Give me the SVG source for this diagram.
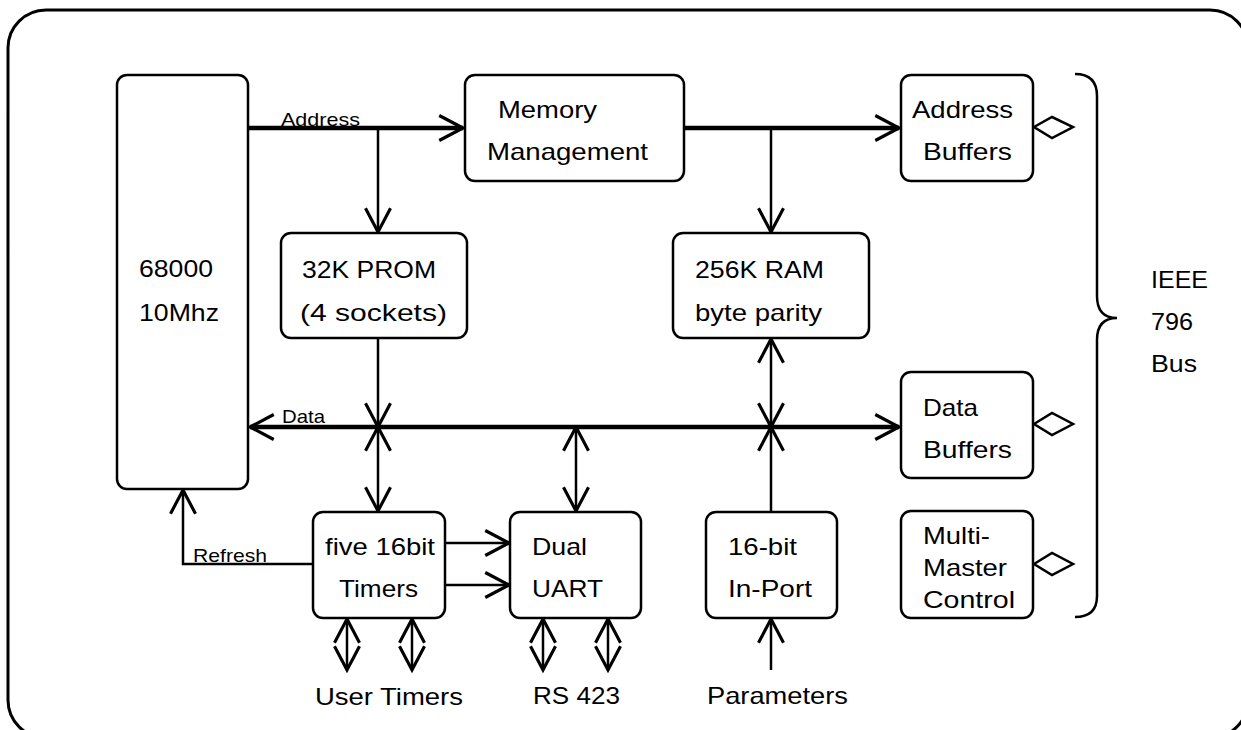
<svg xmlns="http://www.w3.org/2000/svg" width="1241" height="730" viewBox="0 0 1241 730">
<defs>
<marker id="ah" markerUnits="userSpaceOnUse" markerWidth="30" markerHeight="30" viewBox="-22 -12 24 24" refX="0" refY="0" orient="auto-start-reverse">
<path d="M-19,-10 L0,0 L-19,10" fill="none" stroke="#000" stroke-width="2.5"/>
</marker>
<style>
.box{fill:#fff;stroke:#000;stroke-width:2.5}
.t{font-family:"Liberation Sans",Arial,sans-serif;font-size:24px;fill:#000}
.s{font-family:"Liberation Sans",Arial,sans-serif;font-size:19px;fill:#000}
.thin{fill:none;stroke:#000;stroke-width:2.5}
.bus{fill:none;stroke:#000;stroke-width:4.5}
.dia{fill:#fff;stroke:#000;stroke-width:2.5}
</style>
</defs>
<rect width="1241" height="730" fill="#fff"/>
<rect x="8" y="10" width="1240" height="728" rx="38" fill="none" stroke="#000" stroke-width="3"/>

<g id="connectors">
<line class="bus" x1="248" y1="128" x2="463" y2="128" marker-end="url(#ah)"/>
<line class="thin" x1="378" y1="128" x2="378" y2="232" marker-end="url(#ah)"/>
<line class="bus" x1="684" y1="128" x2="899" y2="128" marker-end="url(#ah)"/>
<line class="thin" x1="771" y1="128" x2="771" y2="232" marker-end="url(#ah)"/>
<line class="bus" x1="250" y1="427" x2="899" y2="427" marker-start="url(#ah)" marker-end="url(#ah)"/>
<line class="thin" x1="378" y1="338" x2="378" y2="427" marker-end="url(#ah)"/>
<line class="thin" x1="378" y1="427" x2="378" y2="511" marker-start="url(#ah)" marker-end="url(#ah)"/>
<line class="thin" x1="576" y1="427" x2="576" y2="511" marker-start="url(#ah)" marker-end="url(#ah)"/>
<line class="thin" x1="771" y1="339" x2="771" y2="427" marker-start="url(#ah)" marker-end="url(#ah)"/>
<line class="thin" x1="771" y1="512" x2="771" y2="427" marker-end="url(#ah)"/>
<polyline class="thin" points="313,564 183,564 183,490" marker-end="url(#ah)"/>
<line class="thin" x1="445" y1="543" x2="509" y2="543" marker-end="url(#ah)"/>
<line class="thin" x1="445" y1="585" x2="509" y2="585" marker-end="url(#ah)"/>
<line class="thin" x1="347" y1="619" x2="347" y2="670" marker-start="url(#ah)" marker-end="url(#ah)"/>
<line class="thin" x1="412" y1="619" x2="412" y2="670" marker-start="url(#ah)" marker-end="url(#ah)"/>
<line class="thin" x1="543" y1="619" x2="543" y2="670" marker-start="url(#ah)" marker-end="url(#ah)"/>
<line class="thin" x1="608" y1="619" x2="608" y2="670" marker-start="url(#ah)" marker-end="url(#ah)"/>
<line class="thin" x1="771" y1="670" x2="771" y2="619" marker-end="url(#ah)"/>
<polygon class="dia" points="1034,127 1052,117 1073,127 1052,138"/>
<polygon class="dia" points="1034,424 1052,413 1073,424 1052,435"/>
<polygon class="dia" points="1034,564 1052,553 1073,564 1052,575"/>
<path class="thin" d="M1075,74 Q1097,74 1097,96 L1097,296 Q1097,318 1117,318 Q1097,318 1097,340 L1097,596 Q1097,617 1075,617"/>
<text class="s" x="281" y="126" textLength="79" lengthAdjust="spacingAndGlyphs">Address</text>
<text class="s" x="282" y="423" textLength="43" lengthAdjust="spacingAndGlyphs">Data</text>
<text class="s" x="193" y="562" textLength="74" lengthAdjust="spacingAndGlyphs">Refresh</text>
</g>

<g id="cpu">
<rect class="box" x="117" y="75" width="131" height="414" rx="10"/>
<text class="t" x="139" y="277" textLength="74" lengthAdjust="spacingAndGlyphs">68000</text>
<text class="t" x="139" y="321" textLength="80" lengthAdjust="spacingAndGlyphs">10Mhz</text>
</g>
<g id="mmu">
<rect class="box" x="465" y="75" width="219" height="106" rx="10"/>
<text class="t" x="498" y="118" textLength="99" lengthAdjust="spacingAndGlyphs">Memory</text>
<text class="t" x="487" y="160" textLength="161" lengthAdjust="spacingAndGlyphs">Management</text>
</g>
<g id="addrbuf">
<rect class="box" x="901" y="75" width="132" height="106" rx="10"/>
<text class="t" x="912" y="118" textLength="101" lengthAdjust="spacingAndGlyphs">Address</text>
<text class="t" x="923" y="160" textLength="89" lengthAdjust="spacingAndGlyphs">Buffers</text>
</g>
<g id="prom">
<rect class="box" x="281" y="233" width="186" height="105" rx="10"/>
<text class="t" x="302" y="278" textLength="134" lengthAdjust="spacingAndGlyphs">32K PROM</text>
<text class="t" x="300" y="321" textLength="147" lengthAdjust="spacingAndGlyphs">(4 sockets)</text>
</g>
<g id="ram">
<rect class="box" x="673" y="233" width="196" height="105" rx="10"/>
<text class="t" x="695" y="278" textLength="129" lengthAdjust="spacingAndGlyphs">256K RAM</text>
<text class="t" x="695" y="321" textLength="127" lengthAdjust="spacingAndGlyphs">byte parity</text>
</g>
<g id="databuf">
<rect class="box" x="901" y="372" width="132" height="106" rx="10"/>
<text class="t" x="923" y="416" textLength="55" lengthAdjust="spacingAndGlyphs">Data</text>
<text class="t" x="923" y="458" textLength="89" lengthAdjust="spacingAndGlyphs">Buffers</text>
</g>
<g id="mmc">
<rect class="box" x="901" y="511" width="132" height="107" rx="10"/>
<text class="t" x="923" y="544" textLength="67" lengthAdjust="spacingAndGlyphs">Multi-</text>
<text class="t" x="923" y="576" textLength="84" lengthAdjust="spacingAndGlyphs">Master</text>
<text class="t" x="923" y="608" textLength="92" lengthAdjust="spacingAndGlyphs">Control</text>
</g>
<g id="timers">
<rect class="box" x="313" y="512" width="132" height="106" rx="10"/>
<text class="t" x="325" y="555" textLength="110" lengthAdjust="spacingAndGlyphs">five 16bit</text>
<text class="t" x="339" y="597" textLength="79" lengthAdjust="spacingAndGlyphs">Timers</text>
</g>
<g id="uart">
<rect class="box" x="510" y="512" width="131" height="106" rx="10"/>
<text class="t" x="532" y="555" textLength="55" lengthAdjust="spacingAndGlyphs">Dual</text>
<text class="t" x="532" y="597" textLength="71" lengthAdjust="spacingAndGlyphs">UART</text>
</g>
<g id="inport">
<rect class="box" x="706" y="512" width="131" height="106" rx="10"/>
<text class="t" x="728" y="555" textLength="69" lengthAdjust="spacingAndGlyphs">16-bit</text>
<text class="t" x="728" y="597" textLength="84" lengthAdjust="spacingAndGlyphs">In-Port</text>
</g>
<g id="labels">
<text class="t" x="315" y="705" textLength="148" lengthAdjust="spacingAndGlyphs">User Timers</text>
<text class="t" x="533" y="704" textLength="87" lengthAdjust="spacingAndGlyphs">RS 423</text>
<text class="t" x="707" y="704" textLength="141" lengthAdjust="spacingAndGlyphs">Parameters</text>
<text class="t" x="1151" y="288" textLength="57" lengthAdjust="spacingAndGlyphs">IEEE</text>
<text class="t" x="1151" y="330" textLength="42" lengthAdjust="spacingAndGlyphs">796</text>
<text class="t" x="1151" y="372" textLength="46" lengthAdjust="spacingAndGlyphs">Bus</text>
</g>
</svg>
